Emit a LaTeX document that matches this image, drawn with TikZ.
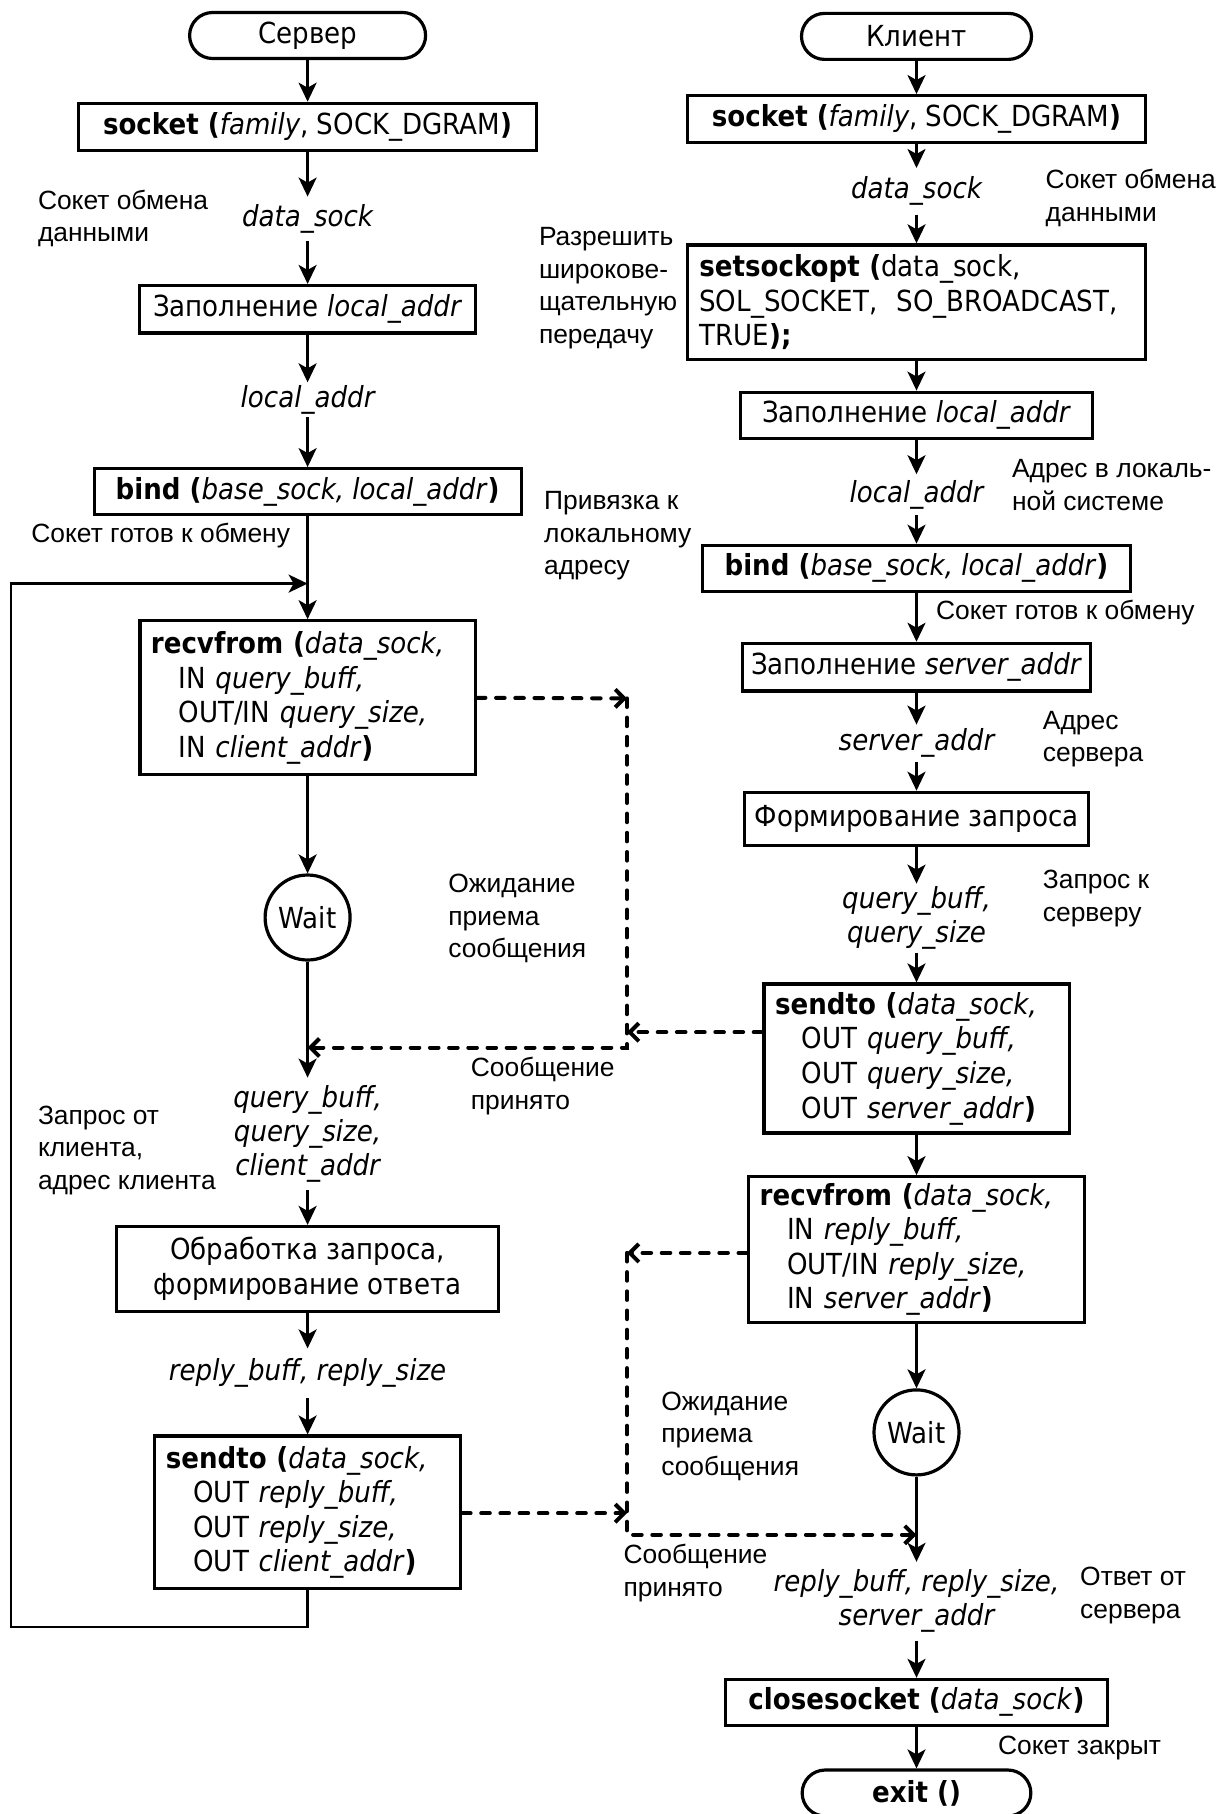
\documentclass[tikz,border=0pt]{standalone}
\usepackage{fontspec}
\newfontfamily\tah{DejaVu Sans}[FakeStretch=0.9]
\newfontfamily\ari{Liberation Sans}
\usetikzlibrary{arrows.meta}
\tikzset{
  box/.style={draw, line width=1.6pt, rectangle, inner sep=0pt,
    font={\tah\fontsize{14.5}{17.3}\selectfont}},
  mbox/.style={box, align=left, inner xsep=5.5pt},
  term/.style={box, rounded corners=11.5pt, minimum height=23pt},
  lbl/.style={inner sep=0pt, align=center,
    font={\tah\itshape\fontsize{14.5}{17}\selectfont}},
  note/.style={inner sep=0pt, anchor=west, align=left,
    font={\ari\fontsize{13.2}{16.25}\selectfont}},
  waitc/.style={draw, circle, line width=1.6pt, minimum size=42.5pt, inner sep=0pt,
    font={\tah\fontsize{14.5}{17.3}\selectfont}},
  arr/.style={line width=1.3pt, -{Stealth[length=9.5pt,width=9pt,inset=2.5pt]}},
  darr/.style={line width=2pt, line cap=round, dash pattern=on 4.3pt off 5.3pt,
    -{Straight Barb[length=4.5pt,width=9pt]}},
}
\begin{document}
\begin{tikzpicture}[x=0.5pt,y=-0.5pt]
\useasboundingbox (0,0) rectangle (1228,1814);
\fill[white] (0,0) rectangle (1228,1814);
\clip (0,0) rectangle (1228,1814);

% ---------------- server column ----------------
\node[term, minimum width=118pt] (srv) at (307.6,35.5) {Сервер};
\node[box, minimum width=229pt, minimum height=23.4pt] (ssock) at (307.6,126.7)
  {{\bfseries socket (}\textit{family}, SOCK\_DGRAM{\bfseries )}};
\node[lbl, minimum height=21.65pt] (ldata) at (307.6,218.65) {data\_sock};
\node[box, minimum width=168pt, minimum height=23.75pt] (lfill) at (307.6,309.3)
  {Заполнение \textit{local\_addr}};
\node[lbl, minimum height=17.15pt] (lloc) at (307.6,399.85) {local\_addr};
\node[box, minimum width=213.5pt, minimum height=23pt] (sbind) at (307.6,491.7)
  {{\bfseries bind (}\textit{base\_sock, local\_addr}{\bfseries )}};
\node[mbox, text width=156.65pt, minimum height=77pt] (srecv) at (307.6,697.8)
  {{\bfseries recvfrom (}\textit{data\_sock,}\\
   \hspace*{13.8pt}IN \textit{query\_buff,}\\
   \hspace*{13.8pt}OUT/IN \textit{query\_size,}\\
   \hspace*{13.8pt}IN \textit{client\_addr}{\bfseries )}};
\node[waitc] (swait) at (307.6,917.5) {Wait};
\node[lbl, minimum height=56pt] (sq) at (307.6,1134)
  {query\_buff,\\query\_size,\\client\_addr};
\node[box, align=center, minimum width=190.75pt, minimum height=42.5pt] (sproc) at (307.6,1269)
  {Обработка запроса,\\формирование ответа};
\node[lbl, minimum height=24.45pt] (sr) at (307.6,1373.25) {reply\_buff, reply\_size};
\node[mbox, text width=141.8pt, minimum height=76.35pt] (ssend) at (307.6,1512.4)
  {{\bfseries sendto (}\textit{data\_sock,}\\
   \hspace*{13.8pt}OUT \textit{reply\_buff,}\\
   \hspace*{13.8pt}OUT \textit{reply\_size,}\\
   \hspace*{13.8pt}OUT \textit{client\_addr}{\bfseries )}};

\coordinate (lpj) at (307.6,583.6);
\coordinate (lpb) at (11,1626.8);

\draw[arr] (srv) -- (ssock);
\draw[arr] (ssock) -- (ldata);
\draw[arr] (ldata) -- (lfill);
\draw[arr] (lfill) -- (lloc);
\draw[arr] (lloc) -- (sbind);
\draw[arr] (sbind) -- (srecv);
\draw[arr] (ssend.south) |- (lpb) |- (lpj);
\draw[arr] (srecv) -- (swait);
\draw[arr] (swait) -- (sq);
\draw[arr] (sq) -- (sproc);
\draw[arr] (sproc) -- (sr);
\draw[arr] (sr) -- (ssend);

% ---------------- client column ----------------
\node[term, minimum width=115pt] (cli) at (916.5,36.4) {Клиент};
\node[box, minimum width=229pt, minimum height=23.35pt] (csock) at (916.5,119)
  {{\bfseries socket (}\textit{family}, SOCK\_DGRAM{\bfseries )}};
\node[lbl, minimum height=22.95pt] (cdata) at (916.5,191.35) {data\_sock};
\node[mbox, inner xsep=6pt, text width=217.1pt, minimum height=57.4pt] (cset) at (916.5,302.3)
  {{\bfseries setsockopt (}data\_sock,\\
   SOL\_SOCKET,\ \ SO\_BROADCAST,\\
   TRUE{\bfseries );}};
\node[box, minimum width=175.8pt, minimum height=23pt] (cfill) at (916.5,415.2)
  {Заполнение \textit{local\_addr}};
\node[lbl, minimum height=20.05pt] (cloc) at (916.5,494.65) {local\_addr};
\node[box, minimum width=213.65pt, minimum height=23pt] (cbind) at (916.5,568.3)
  {{\bfseries bind (}\textit{base\_sock, local\_addr}{\bfseries )}};
\node[box, minimum width=174.15pt, minimum height=23.85pt] (csrv) at (916.5,667.2)
  {Заполнение \textit{server\_addr}};
\node[lbl, minimum height=18.3pt] (caddr) at (916.5,743.3) {server\_addr};
\node[box, minimum width=171.65pt, minimum height=26.7pt] (cform) at (916.5,819)
  {Формирование запроса};
\node[lbl, minimum height=34.1pt] (cq) at (916.5,918.1) {query\_buff,\\query\_size};
\node[mbox, inner xsep=5.6pt, text width=141.4pt, minimum height=74.5pt] (csend) at (916.5,1058.5)
  {{\bfseries sendto (}\textit{data\_sock,}\\
   \hspace*{13.4pt}OUT \textit{query\_buff,}\\
   \hspace*{13.4pt}OUT \textit{query\_size,}\\
   \hspace*{13.4pt}OUT \textit{server\_addr}{\bfseries )}};
\node[mbox, text width=156.8pt, minimum height=72.75pt] (crecv) at (916.5,1249.45)
  {{\bfseries recvfrom (}\textit{data\_sock,}\\
   \hspace*{13.7pt}IN \textit{reply\_buff,}\\
   \hspace*{13.7pt}OUT/IN \textit{reply\_size,}\\
   \hspace*{13.7pt}IN \textit{server\_addr}{\bfseries )}};
\node[waitc] (cwait) at (916.5,1432.4) {Wait};
\node[lbl, minimum height=39.15pt] (cr) at (916.5,1601.35)
  {reply\_buff, reply\_size,\\server\_addr};
\node[box, minimum width=190.8pt, minimum height=22.9pt] (cclose) at (916.5,1702.3)
  {{\bfseries closesocket (}\textit{data\_sock}{\bfseries )}};
\node[term, minimum width=114.35pt] (cexit) at (916.5,1793) {{\bfseries exit ()}};

\draw[arr] (cli) -- (csock);
\draw[arr] (csock) -- (cdata);
\draw[arr] (cdata) -- (cset);
\draw[arr] (cset) -- (cfill);
\draw[arr] (cfill) -- (cloc);
\draw[arr] (cloc) -- (cbind);
\draw[arr] (cbind) -- (csrv);
\draw[arr] (csrv) -- (caddr);
\draw[arr] (caddr) -- (cform);
\draw[arr] (cform) -- (cq);
\draw[arr] (cq) -- (csend);
\draw[arr] (csend) -- (crecv);
\draw[arr] (crecv) -- (cwait);
\draw[arr] (cwait) -- (cr);
\draw[arr] (cr) -- (cclose);
\draw[arr] (cclose) -- (cexit);

% ---------------- dashed message flows ----------------
\coordinate (d1t) at (627,698.4);
\coordinate (d1a) at (627,1032.2);
\coordinate (d1b) at (627,1047.5);
\coordinate (sin) at (307.6,1047.5);
\draw[darr] (srecv.east) -- (d1t);
\draw[darr] (d1t) -- (d1b) -- (sin);
\draw[darr] (csend.west |- d1a) -- (d1a);

\coordinate (d2t) at (627,1252.9);
\coordinate (d2a) at (627,1513.2);
\coordinate (d2b) at (627,1534.8);
\coordinate (cin) at (916.5,1534.8);
\draw[darr] (crecv.west |- d2t) -- (d2t);
\draw[darr] (d2t) -- (d2b) -- (cin);
\draw[darr] (ssend.east |- d2a) -- (d2a);

% ---------------- annotations ----------------
\node[note] (n1) at (37.6,218.5) {Сокет обмена\\данными};
\node[note] (n2) at (31,535.7) {Сокет готов к обмену};
\node[note] (n3) at (538.6,288) {Разрешить\\широкове-\\щательную\\передачу};
\node[note] (n4) at (543.7,535.7) {Привязка к\\локальному\\адресу};
\node[note] (n5) at (448,918.7) {Ожидание\\приема\\сообщения};
\node[note] (n6) at (470.5,1086) {Сообщение\\принято};
\node[note] (n7) at (37.6,1150.5) {Запрос от\\клиента,\\адрес клиента};
\node[note] (n8) at (1045.3,197.7) {Сокет обмена\\данными};
\node[note] (n9) at (1011.7,485) {Адрес в локаль-\\ной системе};
\node[note] (n10) at (935.6,612.7) {Сокет готов к обмену};
\node[note] (n11) at (1042.5,739.2) {Адрес\\сервера};
\node[note] (n12) at (1042.5,898.4) {Запрос к\\серверу};
\node[note] (n13) at (660.9,1436) {Ожидание\\приема\\сообщения};
\node[note] (n14) at (623.2,1573) {Сообщение\\принято};
\node[note] (n15) at (1079.8,1595.5) {Ответ от\\сервера};
\node[note] (n16) at (997.7,1748) {Сокет закрыт};
\end{tikzpicture}
\end{document}
